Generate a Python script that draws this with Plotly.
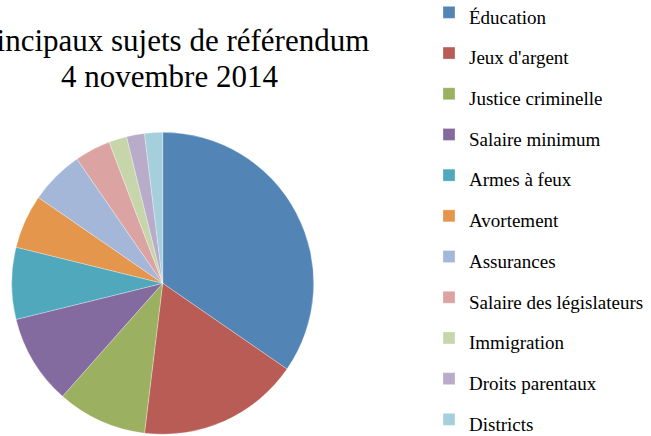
import plotly.graph_objects as go

labels = ["Éducation", "Jeux d'argent", "Justice criminelle", "Salaire minimum",
          "Armes à feux", "Avortement", "Assurances", "Salaire des législateurs",
          "Immigration", "Droits parentaux", "Districts"]
values = [18, 9, 5, 5, 4, 3, 3, 2, 1, 1, 1]
colors = ["#5384B6", "#B95C55", "#9CB061", "#836B9F", "#4FA8BC", "#E3964C",
          "#A4B7D8", "#DBA4A2", "#C7D6AA", "#B8ACCA", "#A5CFDD"]
title_lines = ["Principaux sujets de référendum", "4 novembre 2014"]

W, H = 651, 436
SERIF = "Liberation Serif, Times New Roman, serif"
legend_labels = ["<span style=\"font-size:19px;font-family:'Liberation Serif',serif\">" + l + "</span>"
                 for l in labels]

fig = go.Figure(go.Pie(
    labels=legend_labels,
    values=values,
    marker=dict(colors=colors, line=dict(color="rgba(255,255,255,0.6)", width=0.5)),
    sort=False,
    direction="clockwise",
    rotation=0,
    textinfo="none",
    hoverinfo="skip",
    domain=dict(x=[11.7 / W, 313.7 / W], y=[1.7 / H, 303.7 / H]),
))

title_y = [40, 76]
for txt, yc in zip(title_lines, title_y):
    fig.add_annotation(text=txt, x=169 / W, y=1 - yc / H, xref="paper", yref="paper",
                       xanchor="center", yanchor="middle", showarrow=False,
                       font=dict(family=SERIF, size=31, color="black"))

fig.update_layout(
    width=W, height=H,
    font=dict(family=SERIF, color="black"),
    margin=dict(l=0, r=0, t=0, b=0, autoexpand=False),
    paper_bgcolor="white",
    plot_bgcolor="white",
    legend=dict(x=429 / W, xanchor="left", y=1 + 13 / H, yanchor="top",
                maxheight=700,
                font=dict(family=SERIF, size=29, color="black"),
                bgcolor="rgba(0,0,0,0)", borderwidth=0),
    showlegend=True,
)

fig.write_html("out.html",
               config={"displayModeBar": False},
               post_script="document.body.style.margin='0px';document.body.style.overflow='hidden';")
